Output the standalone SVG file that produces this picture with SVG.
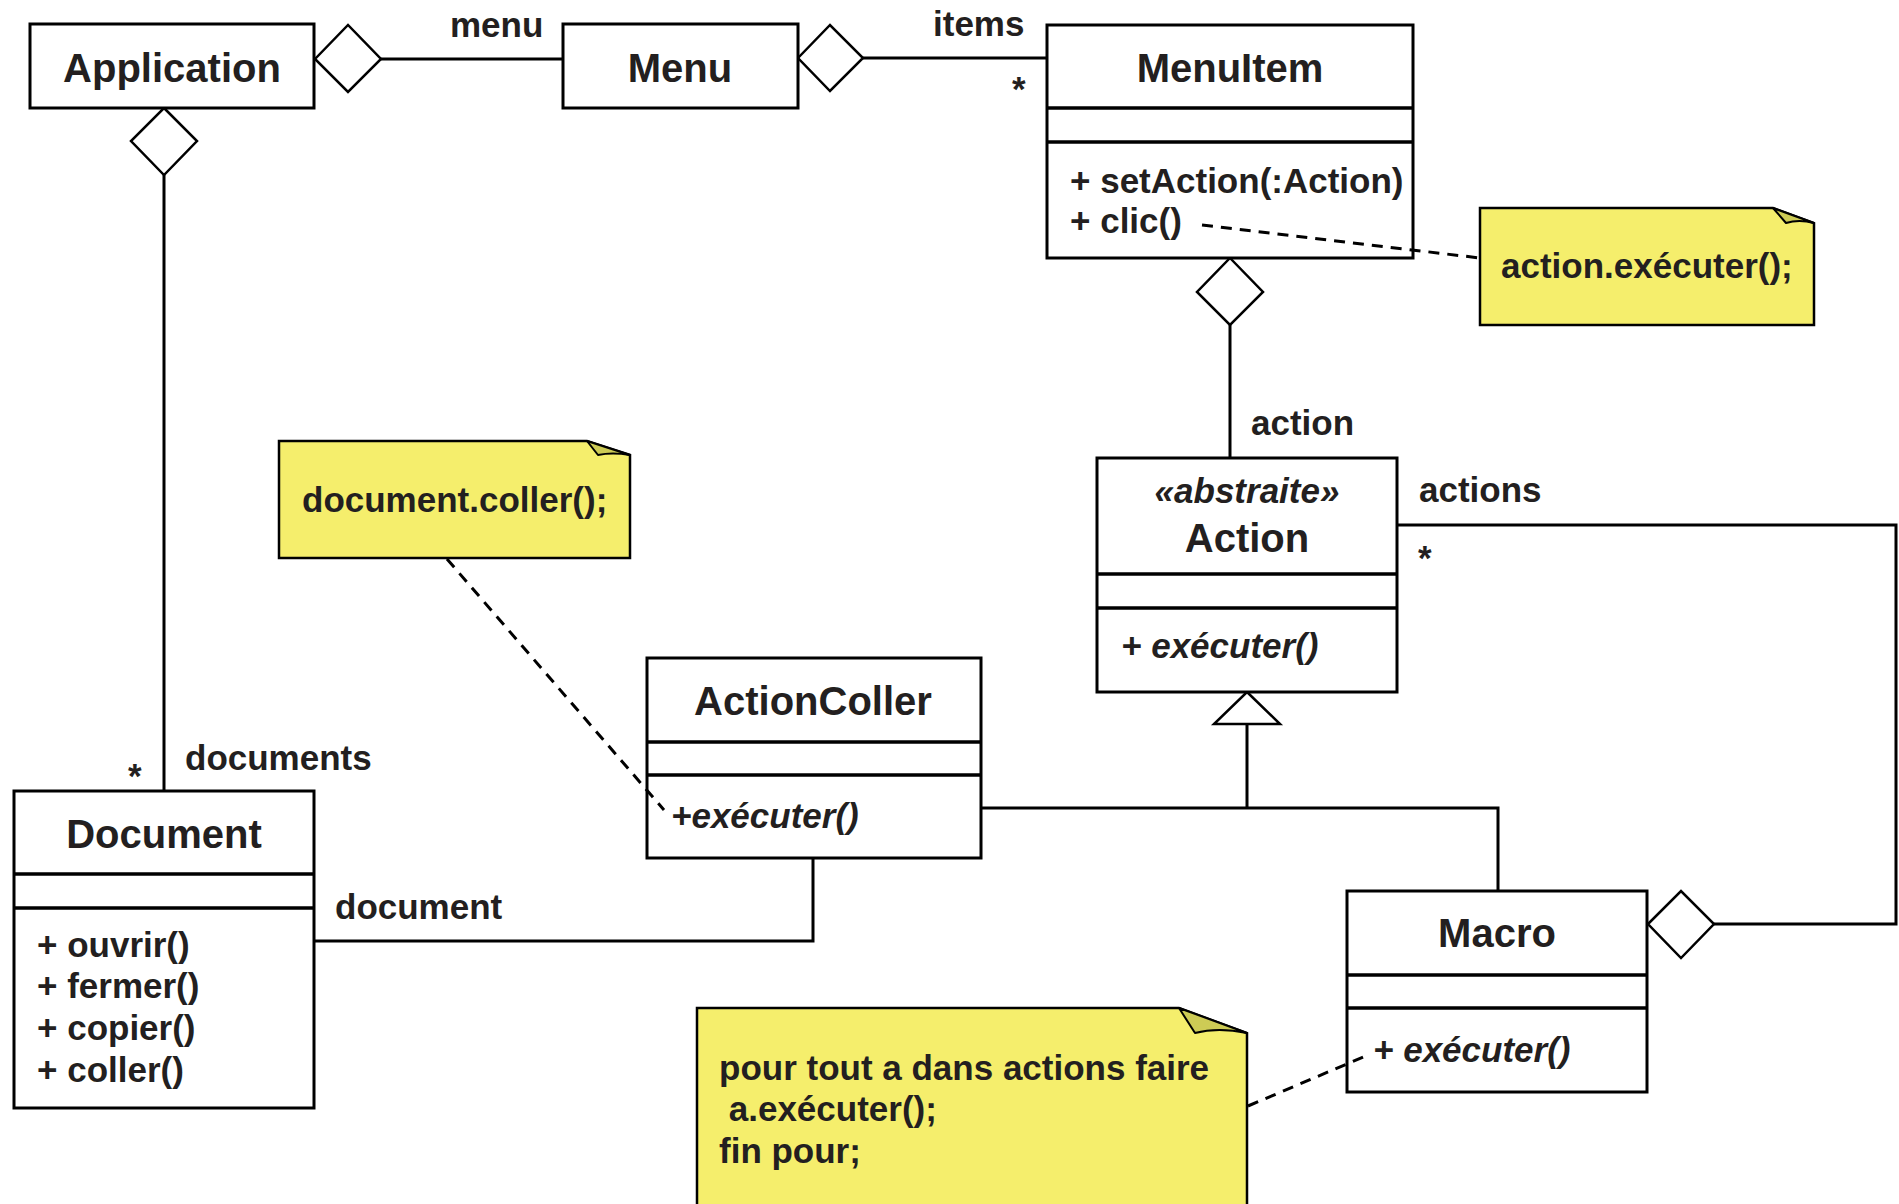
<svg xmlns="http://www.w3.org/2000/svg" width="1899" height="1204" viewBox="0 0 1899 1204">
  <style>
    .box { fill: #ffffff; stroke: #000000; stroke-width: 3; }
    .div { stroke: #000000; stroke-width: 3.5; }
    .note { fill: #F5EE6C; stroke: #000000; stroke-width: 2.5; }
    .fold { fill: #CDCB55; stroke: #000000; stroke-width: 2; stroke-linejoin: round; }
    .line { fill: none; stroke: #000000; stroke-width: 3; }
    .dash { fill: none; stroke: #000000; stroke-width: 3; stroke-dasharray: 11 8; }
    .dia { fill: #ffffff; stroke: #000000; stroke-width: 2.5; }
    text { font-family: "Liberation Sans", Arial, Helvetica, sans-serif; font-weight: bold; fill: #231F20; }
    .name { font-size: 40px; text-anchor: middle; }
    .t { font-size: 35px; }
    .it { font-style: italic; }
  </style>

  <!-- associations and generalization -->
  <g id="connectors">
    <!-- Application <>- Menu -->
    <line class="line" x1="381" y1="59" x2="563" y2="59"/>
    <polygon class="dia" points="315,59 348,25 381,59 348,92"/>
    <!-- Menu <>- MenuItem -->
    <line class="line" x1="863" y1="58" x2="1047" y2="58"/>
    <polygon class="dia" points="798,58 830,25 863,58 830,91"/>
    <!-- Application <>- Document -->
    <line class="line" x1="164" y1="175" x2="164" y2="791"/>
    <polygon class="dia" points="164,108 197,141 164,175 131,141"/>
    <!-- MenuItem <>- Action -->
    <line class="line" x1="1230" y1="325" x2="1230" y2="458"/>
    <polygon class="dia" points="1230,258 1263,292 1230,325 1197,292"/>
    <!-- Macro <>- Action (actions) -->
    <polyline class="line" points="1397,525 1896,525 1896,924 1714,924"/>
    <polygon class="dia" points="1648,924 1681,891 1714,924 1681,958"/>
    <!-- ActionColler - Document -->
    <polyline class="line" points="813,858 813,941 314,941"/>
    <!-- generalization to Action -->
    <polyline class="line" points="981,808 1498,808 1498,891"/>
    <line class="line" x1="1247" y1="724" x2="1247" y2="808"/>
    <polygon class="dia" points="1247,692 1280,724 1214,724"/>
  </g>

  <!-- connector labels -->
  <g id="labels">
    <text class="t" x="450" y="37">menu</text>
    <text class="t" x="933" y="36">items</text>
    <text class="t" x="1012" y="101">*</text>
    <text class="t" x="1251" y="435">action</text>
    <text class="t" x="1419" y="502">actions</text>
    <text class="t" x="1418" y="570">*</text>
    <text class="t" x="128" y="788">*</text>
    <text class="t" x="185" y="770">documents</text>
    <text class="t" x="335" y="919">document</text>
  </g>

  <g id="Application">
    <rect class="box" x="30" y="24" width="284" height="84"/>
    <text class="name" x="172" y="82">Application</text>
  </g>

  <g id="Menu">
    <rect class="box" x="563" y="24" width="235" height="84"/>
    <text class="name" x="680" y="82">Menu</text>
  </g>

  <g id="MenuItem">
    <rect class="box" x="1047" y="25" width="366" height="233"/>
    <line class="div" x1="1047" y1="108" x2="1413" y2="108"/>
    <line class="div" x1="1047" y1="142" x2="1413" y2="142"/>
    <text class="name" x="1230" y="82">MenuItem</text>
    <text class="t" x="1070" y="193">+ setAction(:Action)</text>
    <text class="t" x="1070" y="233">+ clic()</text>
  </g>

  <g id="NoteClic">
    <path class="note" d="M1480,208 H1773 L1814,223 V325 H1480 Z"/>
    <path class="fold" d="M1773,208 L1786,223 Q1799,219 1814,223 Z"/>
    <text class="t" x="1501" y="278">action.exécuter();</text>
  </g>

  <g id="Action">
    <rect class="box" x="1097" y="458" width="300" height="234"/>
    <line class="div" x1="1097" y1="574" x2="1397" y2="574"/>
    <line class="div" x1="1097" y1="608" x2="1397" y2="608"/>
    <text class="t it" x="1247" y="503" text-anchor="middle">«abstraite»</text>
    <text class="name" x="1247" y="552">Action</text>
    <text class="t it" x="1121" y="658">+ exécuter()</text>
  </g>

  <g id="NoteColler">
    <path class="note" d="M279,441 H587 L630,455 V558 H279 Z"/>
    <path class="fold" d="M587,441 L598,455 Q612,452 630,455 Z"/>
    <text class="t" x="302" y="512">document.coller();</text>
  </g>

  <g id="ActionColler">
    <rect class="box" x="647" y="658" width="334" height="200"/>
    <line class="div" x1="647" y1="742" x2="981" y2="742"/>
    <line class="div" x1="647" y1="775" x2="981" y2="775"/>
    <text class="name" x="813" y="715">ActionColler</text>
    <text class="t it" x="671" y="828">+exécuter()</text>
  </g>

  <g id="Document">
    <rect class="box" x="14" y="791" width="300" height="317"/>
    <line class="div" x1="14" y1="874" x2="314" y2="874"/>
    <line class="div" x1="14" y1="908" x2="314" y2="908"/>
    <text class="name" x="164" y="848">Document</text>
    <text class="t" x="37" y="957">+ ouvrir()</text>
    <text class="t" x="37" y="998">+ fermer()</text>
    <text class="t" x="37" y="1040">+ copier()</text>
    <text class="t" x="37" y="1082">+ coller()</text>
  </g>

  <g id="Macro">
    <rect class="box" x="1347" y="891" width="300" height="201"/>
    <line class="div" x1="1347" y1="975" x2="1647" y2="975"/>
    <line class="div" x1="1347" y1="1008" x2="1647" y2="1008"/>
    <text class="name" x="1497" y="947">Macro</text>
    <text class="t it" x="1373" y="1062">+ exécuter()</text>
  </g>

  <g id="NoteMacro">
    <path class="note" d="M697,1008 H1179 L1247,1033 V1210 H697 Z"/>
    <path class="fold" d="M1179,1008 L1195,1033 Q1218,1027 1247,1033 Z"/>
    <text class="t" x="719" y="1080">pour tout a dans actions faire</text>
    <text class="t" x="719" y="1121" xml:space="preserve"> a.exécuter();</text>
    <text class="t" x="719" y="1163">fin pour;</text>
  </g>

  <!-- dashed note anchors, drawn over the class boxes they point into -->
  <g id="note-links">
    <line class="dash" x1="1202" y1="225" x2="1480" y2="258"/>
    <line class="dash" x1="447" y1="559" x2="664" y2="810"/>
    <line class="dash" x1="1248" y1="1106" x2="1368" y2="1055"/>
  </g>
</svg>
